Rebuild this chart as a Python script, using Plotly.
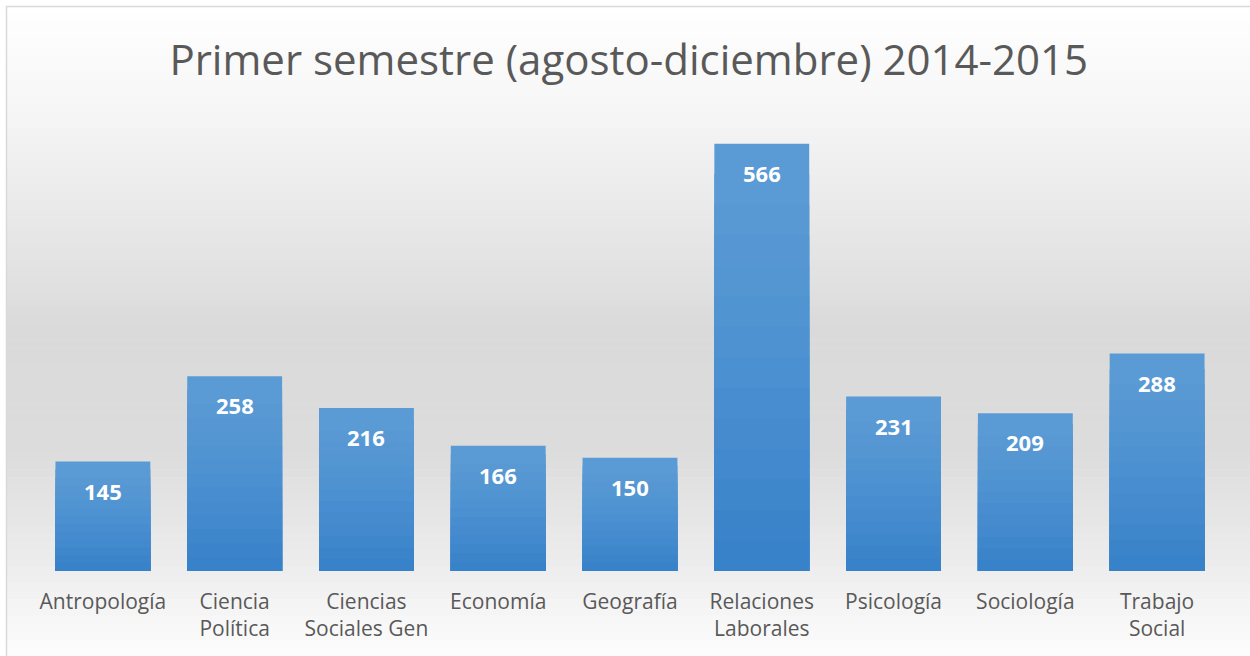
import plotly.graph_objects as go

categories = ["Antropología", "Ciencia<br>Política", "Ciencias<br>Sociales Gen", "Economía",
              "Geografía", "Relaciones<br>Laborales", "Psicología", "Sociología", "Trabajo<br>Social"]
values = [145, 258, 216, 166, 150, 566, 231, 209, 288]
title_text = "Primer semestre (agosto-diciembre) 2014-2015"

W, H = 1250, 656
L, R, T, B = 37, 27, 118, 85
plot_h = H - T - B


def px_to_paper_y(p):
    return (H - B - p) / plot_h


def px_to_paper_x(p):
    return (p - L) / (W - L - R)


def lerp(c1, c2, t):
    return tuple(round(a + (b - a) * t) for a, b in zip(c1, c2))


def hexc(c):
    return "#%02x%02x%02x" % c


fig = go.Figure()

# bar gradient via overlaid fractions (top lighter, bottom darker)
top_col = (91, 155, 213)
bot_col = (52, 127, 200)
steps = 14
for k in range(steps):
    f = 1 - k / steps
    t = 1 - f
    col = hexc(lerp(top_col, bot_col, t ** 1.3))
    fig.add_trace(go.Bar(
        x=categories, y=[v * f for v in values],
        marker=dict(color=col, line=dict(width=0)),
        width=0.72, hoverinfo="skip" if k else "x+y", showlegend=False,
    ))

# data labels
for c, v in zip(categories, values):
    fig.add_annotation(x=c, y=v, text="<b>%d</b>" % v, showarrow=False,
                       yanchor="top", yshift=-12,
                       font=dict(family="Open Sans", size=22, color="white"))

# background gradient bands
shapes = []
stops = [(6, (255, 255, 255)), (120, (245, 245, 245)), (330, (218, 218, 218)),
         (450, (220, 220, 220)), (560, (236, 236, 236)), (656, (253, 253, 253))]
n = 80
for i in range(n):
    y0 = 6 + (656 - 6) * i / n
    y1 = 6 + (656 - 6) * (i + 1) / n
    ym = (y0 + y1) / 2
    for j in range(len(stops) - 1):
        if stops[j][0] <= ym <= stops[j + 1][0]:
            t = (ym - stops[j][0]) / (stops[j + 1][0] - stops[j][0])
            col = lerp(stops[j][1], stops[j + 1][1], t)
            break
    shapes.append(dict(type="rect", xref="paper", yref="paper", layer="below",
                       x0=px_to_paper_x(6), x1=px_to_paper_x(1260),
                       y0=px_to_paper_y(y1 + 0.5), y1=px_to_paper_y(y0),
                       fillcolor=hexc(col), line=dict(width=0)))
shapes.append(dict(type="rect", xref="paper", yref="paper", layer="above",
                   x0=px_to_paper_x(6.5), x1=px_to_paper_x(1270),
                   y0=px_to_paper_y(700), y1=px_to_paper_y(6.5),
                   fillcolor="rgba(0,0,0,0)", line=dict(color="#d9d9d9", width=1.5)))

fig.update_layout(
    width=W, height=H,
    margin=dict(l=L, r=R, t=T, b=B),
    paper_bgcolor="white", plot_bgcolor="rgba(0,0,0,0)",
    barmode="overlay", bargap=0.28,
    shapes=shapes,
    title=dict(text=title_text, x=0.503, xanchor="center", y=1 - 60 / H, yanchor="middle",
               font=dict(family="Open Sans", size=42, color="#595959")),
    xaxis=dict(showgrid=False, zeroline=False, showline=False, ticks="",
               ticklabelstandoff=16,
               tickfont=dict(family="Open Sans", size=21, color="#595959")),
    yaxis=dict(range=[0, 600], visible=False, showgrid=False, zeroline=False),
    showlegend=False,
)

fig.write_html("out.html", config={"displayModeBar": False},
               post_script="document.body.style.margin='0';")
